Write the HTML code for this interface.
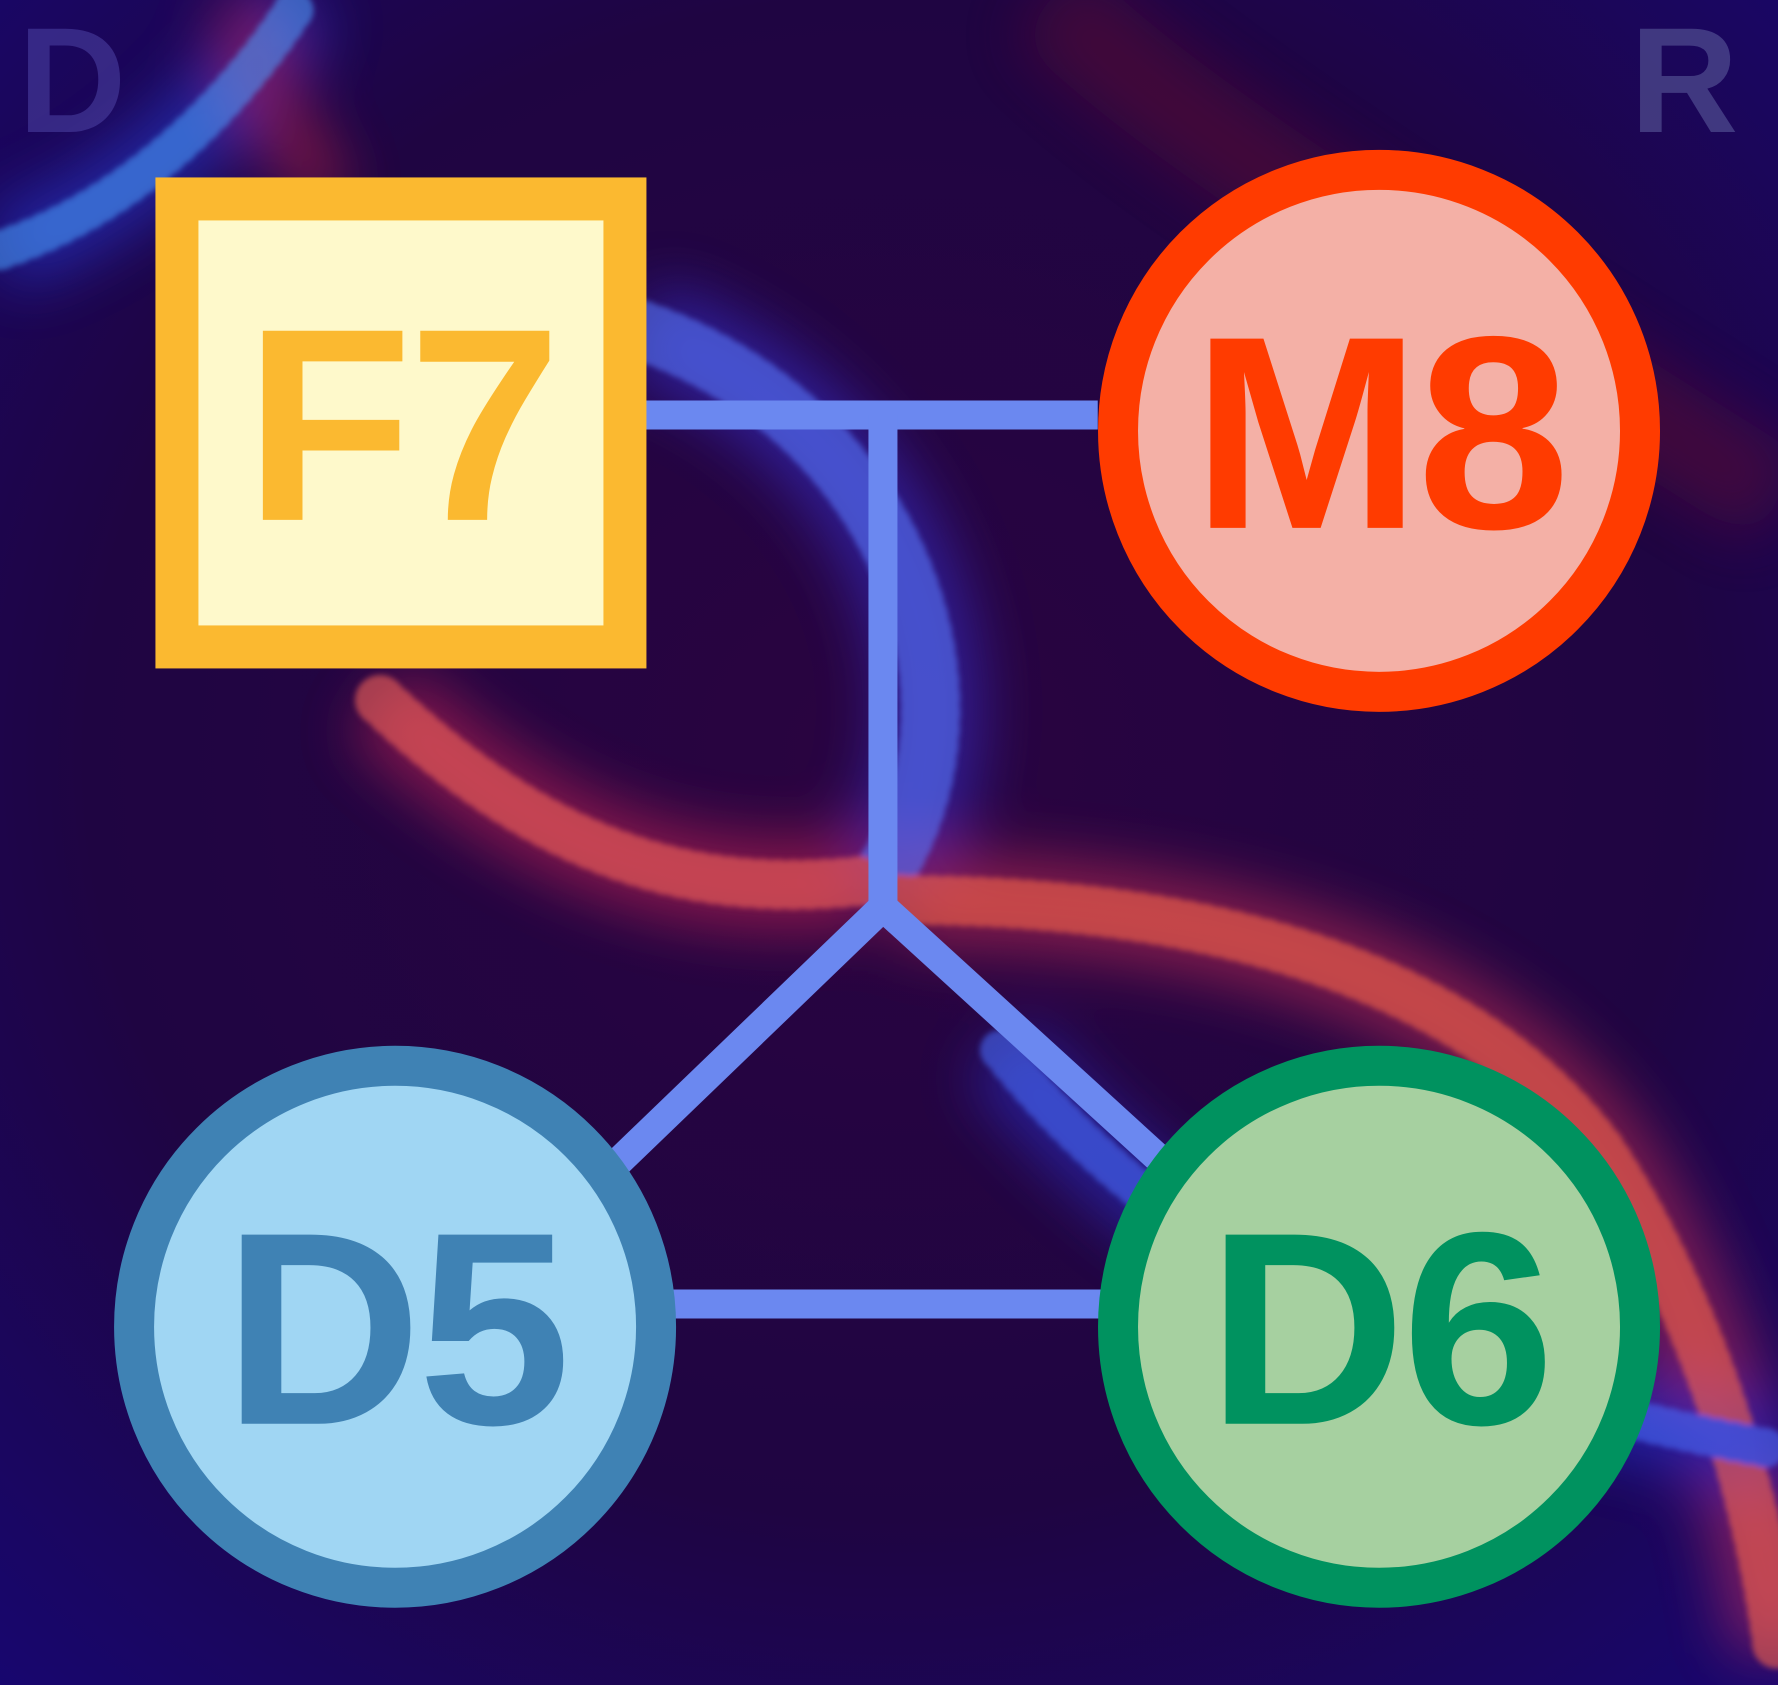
<!DOCTYPE html>
<html><head><meta charset="utf-8">
<style>
html,body{margin:0;padding:0;background:#1a0440;}
svg{display:block;}
text{font-family:"Liberation Sans",sans-serif;font-weight:bold;}
</style></head>
<body>
<svg id="chart" width="1778" height="1685" viewBox="0 0 1778 1685" xmlns="http://www.w3.org/2000/svg">
<defs>
<radialGradient id="bg" cx="50%" cy="45%" r="75%">
<stop offset="0" stop-color="#2a0440"/><stop offset="0.6" stop-color="#1f0542"/><stop offset="1" stop-color="#170670"/>
</radialGradient>
<filter id="blur" x="-50%" y="-50%" width="200%" height="200%"><feGaussianBlur stdDeviation="30"/></filter>
<filter id="blur2" x="-50%" y="-50%" width="200%" height="200%"><feGaussianBlur stdDeviation="3"/></filter>
</defs>
<rect width="1778" height="1685" fill="url(#bg)"/>
<g>
<g opacity="0.45" filter="url(#blur)">
<path d="M0,250 C150,200 250,80 300,0" stroke="#2b4cff" stroke-width="80" fill="none"/>
<path d="M640,330 C900,420 1000,700 880,880" stroke="#3a3cff" stroke-width="100" fill="none"/>
<path d="M380,700 C550,860 700,900 870,880" stroke="#ff2d5a" stroke-width="90" fill="none"/>
<path d="M900,900 C1150,900 1450,950 1600,1150 C1700,1300 1760,1500 1778,1650" stroke="#ff3a5a" stroke-width="90" fill="none"/>
<path d="M1000,1050 C1200,1300 1500,1400 1778,1450" stroke="#2a40ff" stroke-width="80" fill="none"/>
<path d="M1050,0 C1150,100 1300,200 1778,500" stroke="#6a0a30" stroke-width="100" fill="none"/>
<path d="M240,0 C250,80 300,150 330,200" stroke="#ff3040" stroke-width="50" fill="none"/>
</g>
<g opacity="0.55" filter="url(#blur2)" stroke-linecap="round" fill="none" stroke-dasharray="2 14">
<path d="M0,250 C150,200 250,80 300,0" stroke="#4aa0ff" stroke-width="40"/>
<path d="M640,330 C900,420 1000,700 880,880" stroke="#5a7cff" stroke-width="60"/>
<path d="M380,700 C550,860 700,900 870,880" stroke="#ff6a5a" stroke-width="50"/>
<path d="M900,900 C1150,900 1450,950 1600,1150 C1700,1300 1760,1500 1778,1650" stroke="#ff6a4a" stroke-width="50"/>
<path d="M1000,1050 C1200,1300 1500,1400 1778,1450" stroke="#4a70ff" stroke-width="40"/>
</g>
</g>
<text x="18" y="132" font-size="150" fill="#4a3fa0" opacity="0.6">D</text>
<text x="1630" y="132" font-size="150" fill="#5a5a9a" opacity="0.6">R</text>
<g id="links"></g>
<g id="nodes"></g>
</svg>
<script>
// node data (ratios of canvas)
const nodeLabels = ["F7","M8","D5","D6"];
const nodeShapes = ["square","circle","circle","circle"];
const nodeX = [0.2255,0.7756,0.2222,0.7756];
const nodeY = [0.2510,0.2557,0.7874,0.7874];
const strokeColors = ["#fbb930","#ff3b00","#3f82b4","#00925f"];
const fillColors = ["#fef9cb","#f4b0a6","#a0d6f3","#a6d0a0"];
const linkPaths = [
  [[0.3628,0.2463],[0.6174,0.2463]],
  [[0.4966,0.2463],[0.4966,0.5383]],
  [[0.4966,0.5383],[0.3442,0.6932]],
  [[0.4966,0.5383],[0.6507,0.6866]],
  [[0.3300,0.7739],[0.6200,0.7739]]
];
const W=1778,H=1685,NS="http://www.w3.org/2000/svg";
const sx=v=>v*W, sy=v=>v*H;
const links=document.getElementById('links');
linkPaths.forEach((p,i)=>{
  const l=document.createElementNS(NS,'polyline');
  l.setAttribute('points',p.map(q=>sx(q[0])+','+sy(q[1])).join(' '));
  l.setAttribute('stroke','#6b88f0');l.setAttribute('stroke-width','29');l.setAttribute('fill','none');
  
  
  links.appendChild(l);
});
const nodes=document.getElementById('nodes');
nodeLabels.forEach((lab,i)=>{
  const g=document.createElementNS(NS,'g');
  
  
  const cx=sx(nodeX[i]),cy=sy(nodeY[i]);
  let s;
  if(nodeShapes[i]==='square'){
    s=document.createElementNS(NS,'rect');
    s.setAttribute('x',cx-224);s.setAttribute('y',cy-224);s.setAttribute('width',448);s.setAttribute('height',448);
    s.setAttribute('stroke-width','43');
  } else {
    s=document.createElementNS(NS,'circle');
    s.setAttribute('cx',cx);s.setAttribute('cy',cy);s.setAttribute('r',261);
    s.setAttribute('stroke-width','40');
  }
  s.setAttribute('fill',fillColors[i]);s.setAttribute('stroke',strokeColors[i]);
  g.appendChild(s);
  const t=document.createElementNS(NS,'text');
  t.setAttribute('x',cx);t.setAttribute('y',cy+97);t.setAttribute('text-anchor','middle');
  t.setAttribute('font-size','275');t.setAttribute('fill',strokeColors[i]);
  t.setAttribute('letter-spacing','-4');
  t.textContent=lab;
  
  
  g.appendChild(t);
  nodes.appendChild(g);
});
</script>
</body></html>
